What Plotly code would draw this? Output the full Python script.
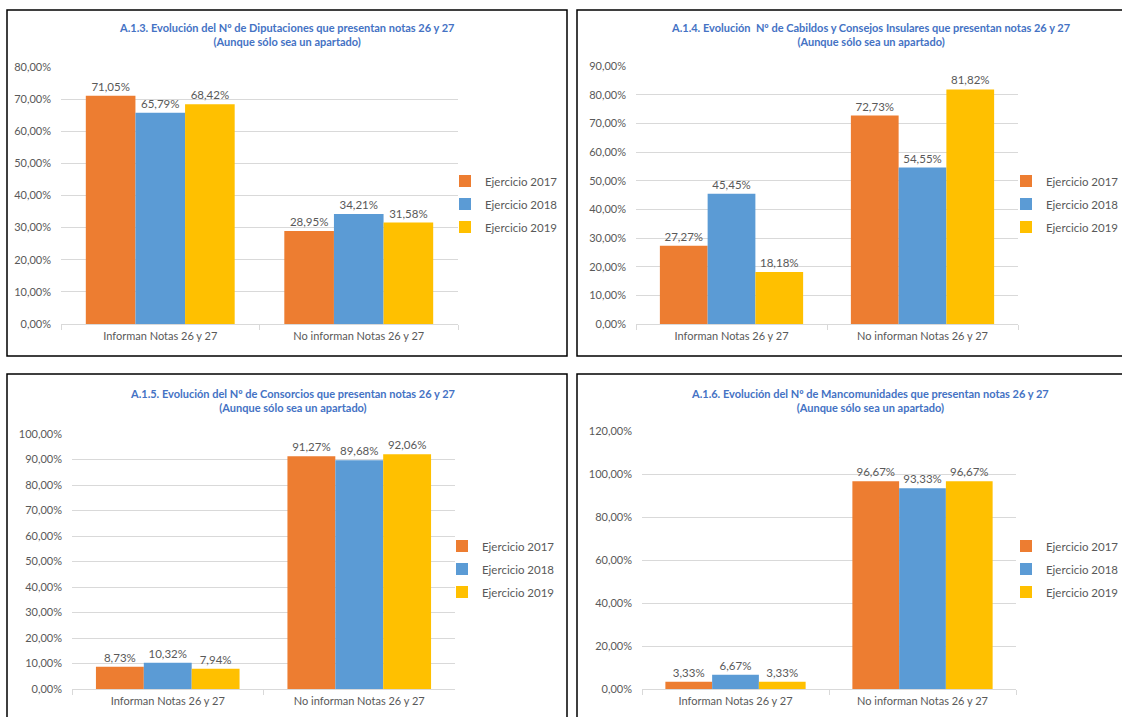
import plotly.graph_objects as go

categories = ["Informan Notas 26 y 27", "No informan Notas 26 y 27"]
series_names = ["Ejercicio 2017", "Ejercicio 2018", "Ejercicio 2019"]
colors = ["#ED7D31", "#5B9BD5", "#FFC000"]

titles = [
    "A.1.3. Evolución del Nº de Diputaciones que presentan notas 26 y 27<br>(Aunque sólo sea un apartado)",
    "A.1.4. Evolución  Nº de Cabildos y Consejos Insulares que presentan notas 26 y 27<br>(Aunque sólo sea un apartado)",
    "A.1.5. Evolución del Nº de Consorcios que presentan notas 26 y 27<br>(Aunque sólo sea un apartado)",
    "A.1.6. Evolución del Nº de Mancomunidades que presentan notas 26 y 27<br>(Aunque sólo sea un apartado)",
]

diputaciones = {"2017": [71.05, 28.95], "2018": [65.79, 34.21], "2019": [68.42, 31.58]}
cabildos = {"2017": [27.27, 72.73], "2018": [45.45, 54.55], "2019": [18.18, 81.82]}
consorcios = {"2017": [8.73, 91.27], "2018": [10.32, 89.68], "2019": [7.94, 92.06]}
mancomunidades = {"2017": [3.33, 96.67], "2018": [6.67, 93.33], "2019": [3.33, 96.67]}

panels_data = [diputaciones, cabildos, consorcios, mancomunidades]
y_max = [80, 90, 100, 120]
y_dtick = [10, 10, 10, 20]

W, H = 1122, 717
FONT = "Lato"
GRAY = "#595959"


def px(v):
    return v / W


def py(v):
    return 1 - v / H


# plot areas in pixels: (left, right, top, bottom)
areas = [(61, 458, 67, 324), (636, 1018, 66, 324), (72, 455, 434, 689), (642, 1016, 431, 689)]
borders = [(7, 10, 567, 356), (577, 10, 1130, 356), (7, 374, 567, 725), (577, 374, 1130, 725)]
title_pos = [(286, 35), (870, 35), (292, 400), (870, 400)]
legend_pos = [(445, 204), (1006, 204), (442, 569), (1006, 569)]

fig = go.Figure()
layout = {}
for i, data in enumerate(panels_data):
    ax = "" if i == 0 else str(i + 1)
    lg = "legend" if i == 0 else "legend" + str(i + 1)
    for j, year in enumerate(["2017", "2018", "2019"]):
        fig.add_trace(go.Bar(
            x=categories, y=data[year], name=series_names[j],
            marker=dict(color=colors[j], line=dict(width=0)),
            xaxis="x" + ax, yaxis="y" + ax, legend=lg,
            legendgroup=f"{i}-{j}",
            text=data[year], texttemplate="%{y:.2f}%", textposition="outside",
            textfont=dict(family=FONT, size=11.5, color=GRAY), cliponaxis=False,
            hoverinfo="skip",
        ))
    l, r, t, b = areas[i]
    layout["xaxis" + ax] = dict(
        domain=[px(l), px(r)], anchor="y" + ax, showline=True, linecolor="#D9D9D9",
        ticks="outside", tickson="boundaries", ticklen=5, tickcolor="#D9D9D9",
        tickfont=dict(family=FONT, size=11, color=GRAY), showgrid=False,
        ticklabelstandoff=2, automargin=False,
    )
    layout["yaxis" + ax] = dict(
        domain=[py(b), py(t)], anchor="x" + ax, range=[0, y_max[i]], dtick=y_dtick[i],
        tickformat=".2f", ticksuffix="%", showgrid=True, gridcolor="#D9D9D9", gridwidth=1,
        zeroline=False, showline=False, ticks="", ticklabelstandoff=9, automargin=False,
        tickfont=dict(family=FONT, size=11, color=GRAY),
    )
    lx, ly = legend_pos[i]
    layout[lg] = dict(
        x=px(lx), y=py(ly), xanchor="left", yanchor="middle", bgcolor="rgba(0,0,0,0)",
        font=dict(family=FONT, size=11.5, color=GRAY), traceorder="grouped",
        tracegroupgap=4, itemwidth=30,
    )
    bx0, by0, bx1, by1 = borders[i]
    fig.add_shape(type="rect", xref="paper", yref="paper", x0=px(bx0), x1=px(bx1),
                  y0=py(by0), y1=py(by1), line=dict(color="black", width=1.5))
    tx, ty = title_pos[i]
    fig.add_annotation(text="<b>" + titles[i].replace("<br>", "</b><br><b>") + "</b>",
                       xref="paper", yref="paper", x=px(tx), y=py(ty), showarrow=False,
                       xanchor="center", yanchor="middle", align="center",
                       font=dict(family=FONT, size=11, color="#4472C4"))

fig.update_layout(
    width=W, height=H, margin=dict(l=0, r=0, t=0, b=0, autoexpand=False),
    paper_bgcolor="white", plot_bgcolor="white", separators=",.",
    bargap=0.25, bargroupgap=0, barmode="group", showlegend=True,
    font=dict(family=FONT, color=GRAY),
    **layout,
)

fig.write_html("out.html", config={"displayModeBar": False},
               post_script="document.body.style.margin='0';document.body.style.overflow='hidden';")
